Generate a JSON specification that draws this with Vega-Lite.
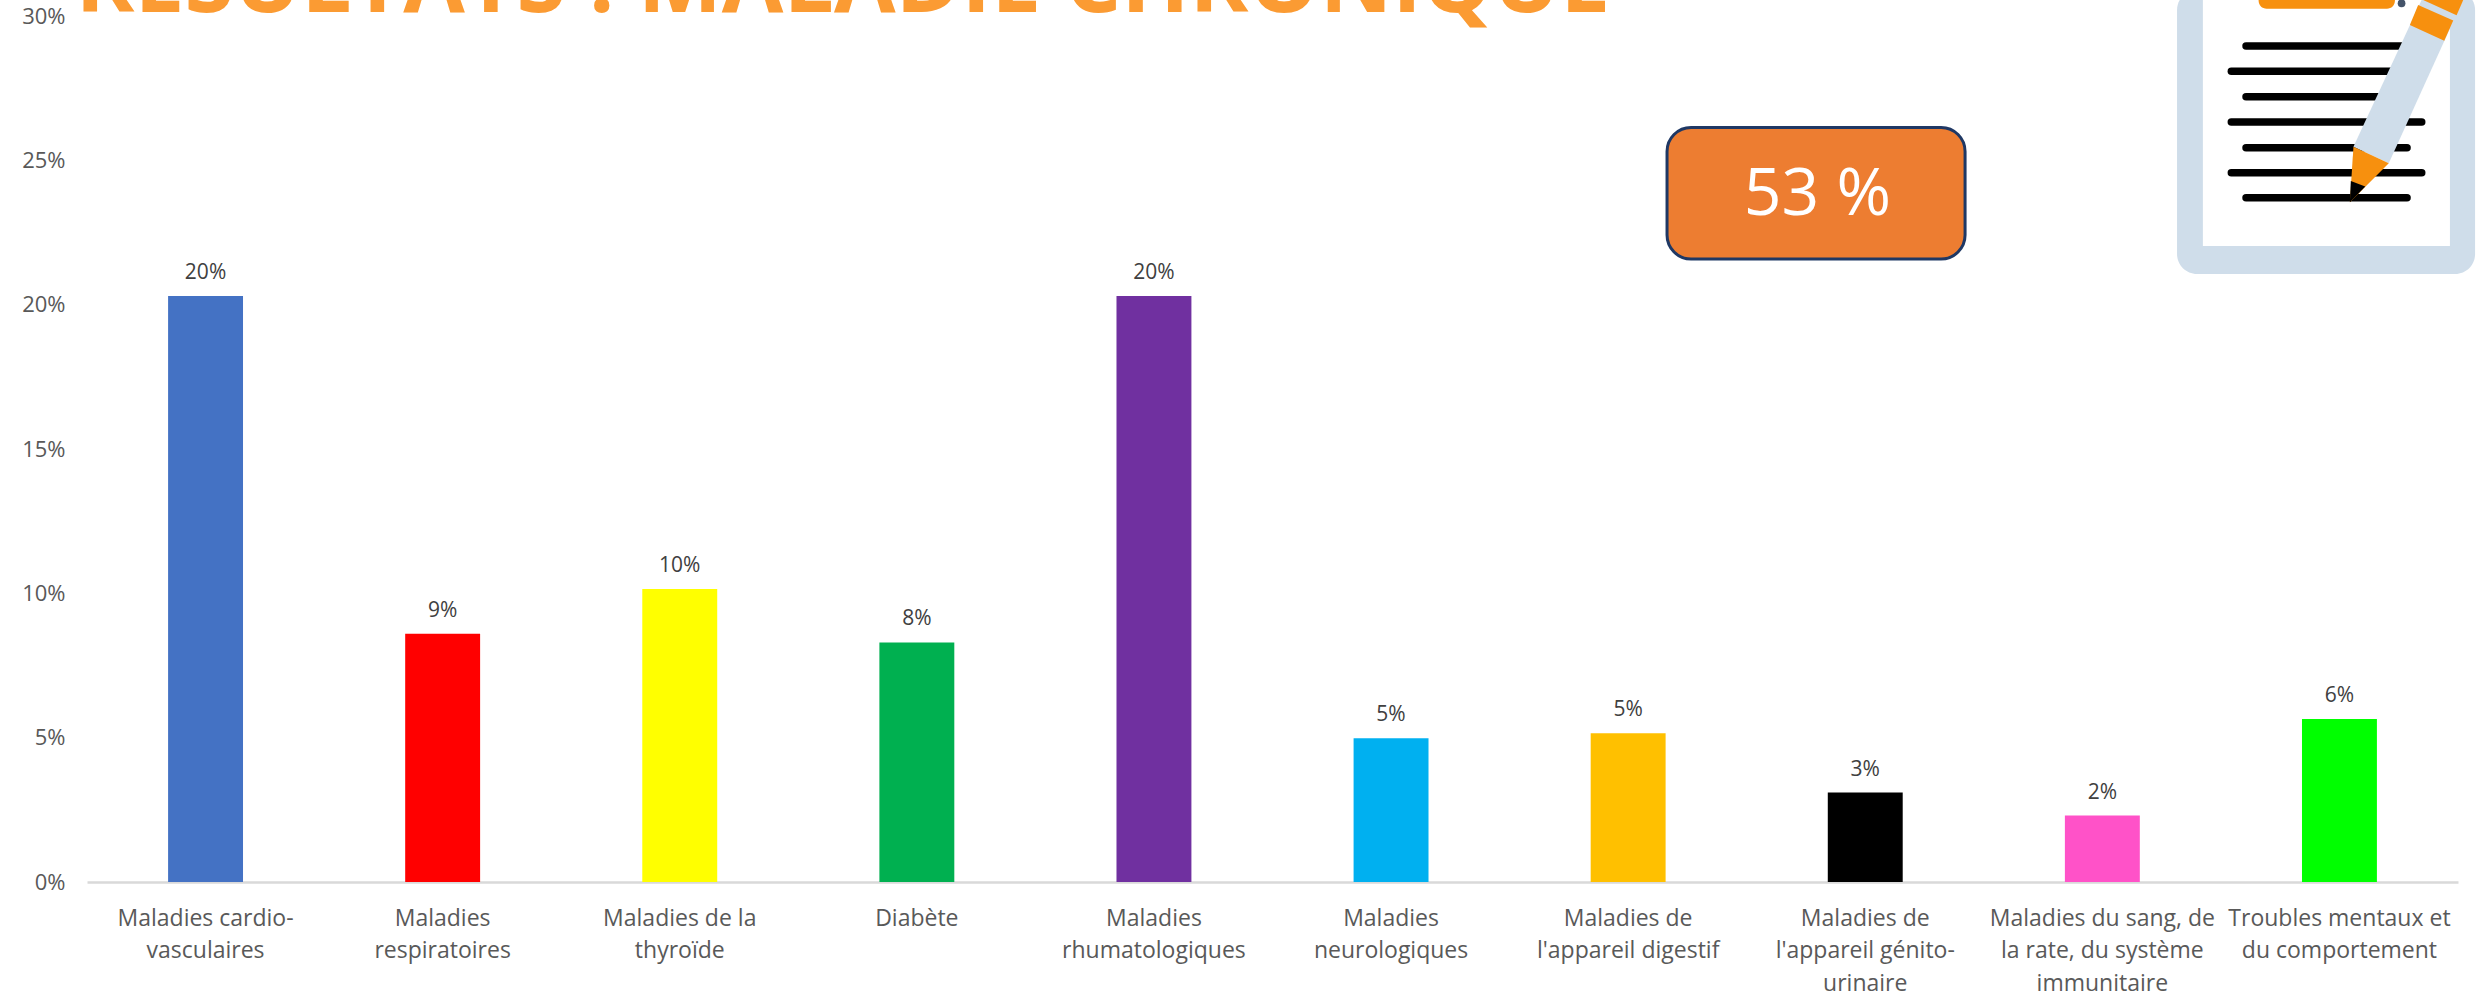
{"$schema":"https://vega.github.io/schema/vega-lite/v6.json","width":2371,"height":866,"autosize":{"type":"none"},"padding":{"left":87,"top":16,"right":25,"bottom":110},"background":"white","config":{"view":{"stroke":null},"font":"Open Sans"},"layer":[
{"data":{"values":[{"categorie":"Maladies cardio-|vasculaires","part":0.203,"couleur":"#4472C4"},{"categorie":"Maladies|respiratoires","part":0.086,"couleur":"#FF0000"},{"categorie":"Maladies de la|thyroïde","part":0.1015,"couleur":"#FFFF00"},{"categorie":"Diabète","part":0.083,"couleur":"#00B050"},{"categorie":"Maladies|rhumatologiques","part":0.203,"couleur":"#7030A0"},{"categorie":"Maladies|neurologiques","part":0.0498,"couleur":"#00B0F0"},{"categorie":"Maladies de|l'appareil digestif","part":0.0515,"couleur":"#FFC000"},{"categorie":"Maladies de|l'appareil génito-|urinaire","part":0.031,"couleur":"#000000"},{"categorie":"Maladies du sang, de|la rate, du système|immunitaire","part":0.023,"couleur":"#FF52C8"},{"categorie":"Troubles mentaux et|du comportement","part":0.0565,"couleur":"#00FF00"}]},
"encoding":{"x":{"field":"categorie","type":"nominal","sort":null,"scale":{"paddingInner":0.684,"paddingOuter":0.342},"axis":{"title":null,"labelAngle":0,"labelAlign":"center","labelBaseline":"top","labelExpr":"split(datum.label,'|')","labelLineHeight":32.5,"labelFont":"Open Sans","labelFontSize":23,"labelColor":"#595959","labelPadding":25,"ticks":false,"domainColor":"#D9D9D9","domainWidth":2.5,"labelLimit":300,"labelOverlap":false}},"y":{"field":"part","type":"quantitative","scale":{"domain":[0,0.3],"nice":false},"axis":{"title":null,"format":".0%","values":[0,0.05,0.1,0.15,0.2,0.25,0.3],"grid":false,"domain":false,"ticks":false,"labelFont":"Open Sans","labelFontSize":22,"labelColor":"#595959","labelPadding":22}}},
"layer":[{"mark":{"type":"bar"},"encoding":{"fill":{"field":"couleur","type":"nominal","scale":null}}},{"mark":{"type":"text","baseline":"bottom","dy":-13,"font":"Open Sans","fontSize":21,"fill":"#404040"},"encoding":{"text":{"field":"part","format":".0%"}}}]},
{"data":{"values":[{"a":8.815,"b":10.072,"h":30.9,"l":21.06}]},"mark":{"type":"rect","clip":false,"fill":"#CFDDEA","cornerRadius":20},"encoding":{"x":{"field":"a","type":"quantitative","scale":{"domain":[0,10],"nice":false},"axis":null},"x2":{"field":"b"},"y":{"field":"h","type":"quantitative","scale":{"domain":[0,30],"nice":false},"axis":null},"y2":{"field":"l"}}},
{"data":{"values":[{"a":8.924,"b":9.966,"h":30.9,"l":22.03}]},"mark":{"type":"rect","clip":false,"fill":"#FFFFFF"},"encoding":{"x":{"field":"a","type":"quantitative","scale":{"domain":[0,10],"nice":false},"axis":null},"x2":{"field":"b"},"y":{"field":"h","type":"quantitative","scale":{"domain":[0,30],"nice":false},"axis":null},"y2":{"field":"l"}}},
{"data":{"values":[{"a":9.159,"b":9.734,"h":30.9,"l":30.25}]},"mark":{"type":"rect","clip":false,"fill":"#F7900E","cornerRadius":8},"encoding":{"x":{"field":"a","type":"quantitative","scale":{"domain":[0,10],"nice":false},"axis":null},"x2":{"field":"b"},"y":{"field":"h","type":"quantitative","scale":{"domain":[0,30],"nice":false},"axis":null},"y2":{"field":"l"}}},
{"data":{"values":[{"a":6.664,"b":7.921,"h":26.14,"l":21.58}]},"mark":{"type":"rect","clip":false,"fill":"#ED7D31","stroke":"#1F3864","strokeWidth":3,"cornerRadius":24},"encoding":{"x":{"field":"a","type":"quantitative","scale":{"domain":[0,10],"nice":false},"axis":null},"x2":{"field":"b"},"y":{"field":"h","type":"quantitative","scale":{"domain":[0,30],"nice":false},"axis":null},"y2":{"field":"l"}}},
{"data":{"values":[{"a":9.106,"b":9.785,"h":28.96},{"a":9.044,"b":9.847,"h":28.09},{"a":9.106,"b":9.785,"h":27.2},{"a":9.044,"b":9.847,"h":26.33},{"a":9.106,"b":9.785,"h":25.44},{"a":9.044,"b":9.847,"h":24.57},{"a":9.106,"b":9.785,"h":23.7}]},"mark":{"type":"rule","strokeCap":"round","strokeWidth":7.5,"color":"#000000","clip":false},"encoding":{"x":{"field":"a","type":"quantitative","scale":{"domain":[0,10],"nice":false},"axis":null},"x2":{"field":"b"},"y":{"field":"h","type":"quantitative","scale":{"domain":[0,30],"nice":false},"axis":null}}},
{"data":{"values":[{"p":"a","o":1,"a":9.559,"h":25.47},{"p":"a","o":2,"a":9.708,"h":24.9},{"p":"a","o":3,"a":10.04,"h":30.9},{"p":"a","o":4,"a":9.866,"h":30.9},{"p":"b","o":1,"a":9.559,"h":25.47},{"p":"b","o":2,"a":9.708,"h":24.9},{"p":"b","o":3,"a":9.544,"h":23.55},{"p":"c","o":1,"a":9.548,"h":24.28},{"p":"c","o":2,"a":9.609,"h":24.09},{"p":"c","o":3,"a":9.544,"h":23.55},{"p":"d","o":1,"a":9.797,"h":29.69},{"p":"d","o":2,"a":9.942,"h":29.14},{"p":"d","o":3,"a":9.98,"h":29.84},{"p":"d","o":4,"a":9.832,"h":30.38},{"p":"e","o":1,"a":9.853,"h":30.55},{"p":"e","o":2,"a":9.994,"h":30.03},{"p":"e","o":3,"a":10.022,"h":30.55}]},"mark":{"type":"line","interpolate":"linear-closed","filled":true,"clip":false,"strokeWidth":0},"encoding":{"x":{"field":"a","type":"quantitative","scale":{"domain":[0,10],"nice":false},"axis":null},"y":{"field":"h","type":"quantitative","scale":{"domain":[0,30],"nice":false},"axis":null},"order":{"field":"o"},"fill":{"field":"p","type":"nominal","legend":null,"scale":{"domain":["a","b","c","d","e"],"range":["#CFDDEA","#F7900E","#000000","#F7900E","#F7900E"]}}}},
{"data":{"values":[{"a":9.762,"h":30.44}]},"mark":{"type":"point","filled":true,"size":60,"color":"#44546A","opacity":1,"clip":false},"encoding":{"x":{"field":"a","type":"quantitative","scale":{"domain":[0,10],"nice":false},"axis":null},"y":{"field":"h","type":"quantitative","scale":{"domain":[0,30],"nice":false},"axis":null}}},
{"data":{"values":[{"a":7.298,"h":23.8,"t":"53 %"}]},"mark":{"type":"text","font":"Open Sans","fontSize":66,"fill":"#FFFFFF","align":"center","baseline":"middle"},"encoding":{"x":{"field":"a","type":"quantitative","scale":{"domain":[0,10],"nice":false},"axis":null},"y":{"field":"h","type":"quantitative","scale":{"domain":[0,30],"nice":false},"axis":null},"text":{"field":"t"}}},
{"data":{"values":[{"a":-0.0485,"h":30.14,"t":"RÉSULTATS : MALADIE CHRONIQUE"}]},"mark":{"type":"text","font":"Open Sans","fontWeight":"bold","fontSize":89.3,"fill":"#FB9B33","align":"left","baseline":"alphabetic"},"encoding":{"x":{"field":"a","type":"quantitative","scale":{"domain":[0,10],"nice":false},"axis":null},"y":{"field":"h","type":"quantitative","scale":{"domain":[0,30],"nice":false},"axis":null},"text":{"field":"t"}}}
],"resolve":{"scale":{"x":"independent","y":"independent","fill":"independent"},"axis":{"x":"independent","y":"independent"}}}
